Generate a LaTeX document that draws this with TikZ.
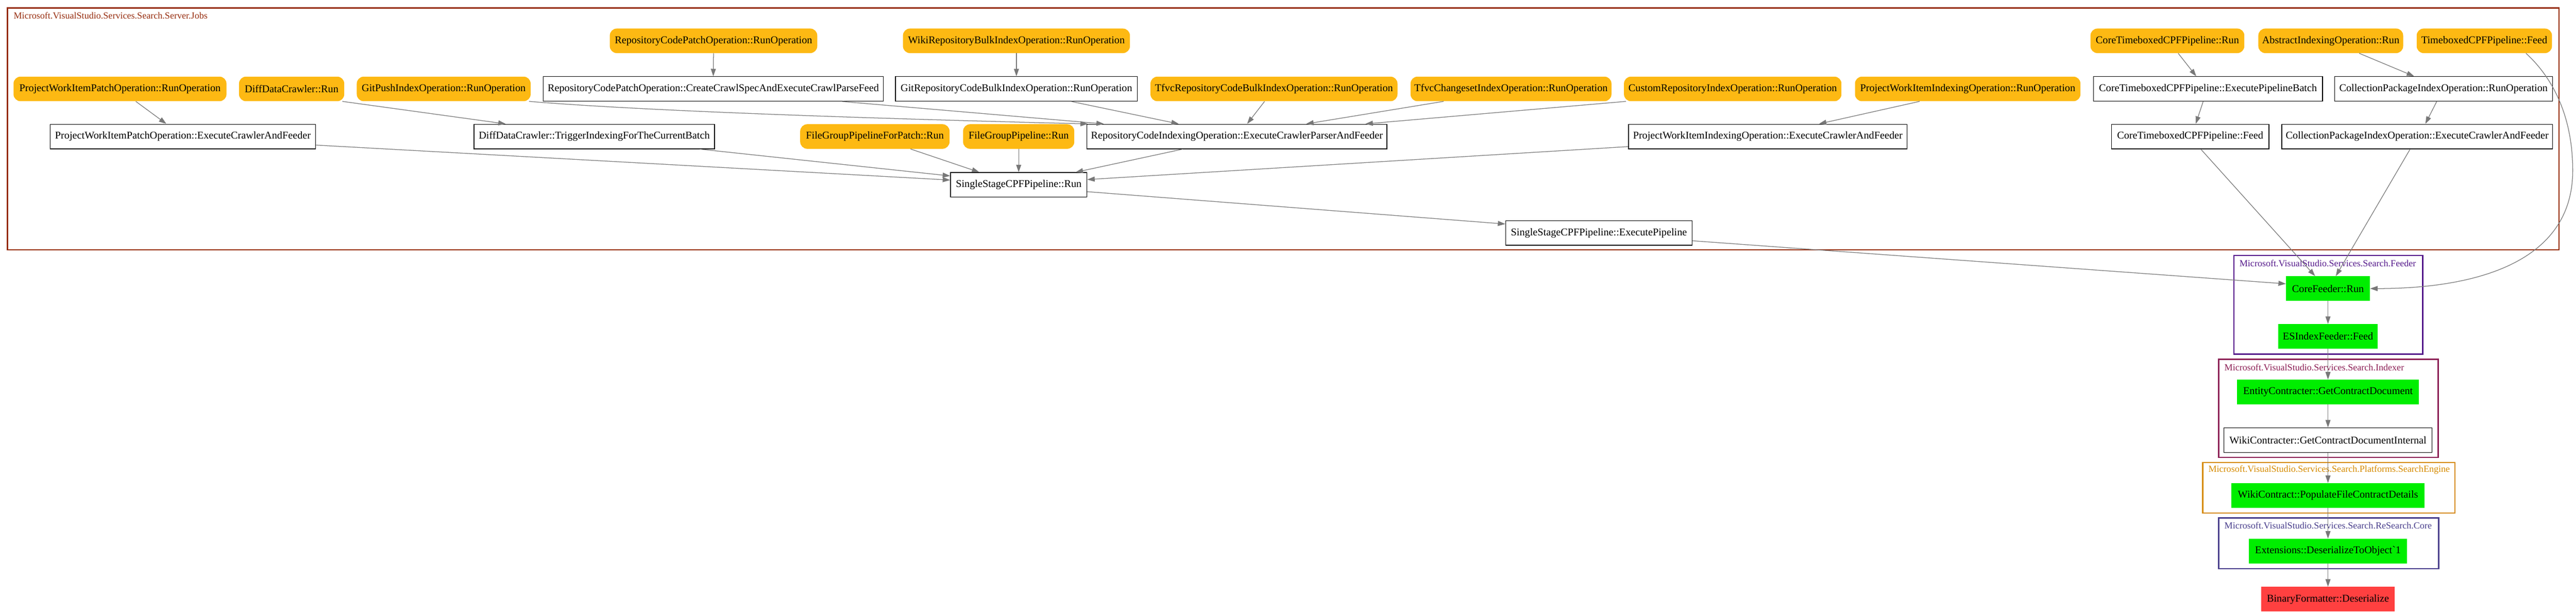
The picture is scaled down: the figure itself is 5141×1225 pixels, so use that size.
\documentclass[tikz,border=0pt]{standalone}
\usepackage{fontspec}
\setmainfont{Liberation Serif}
\newfontfamily\nodefam{Liberation Serif}
\usetikzlibrary{arrows.meta,calc}
\definecolor{opOrange}{RGB}{253,185,19}
\definecolor{fnGreen}{RGB}{0,238,0}
\definecolor{fnRed}{RGB}{255,64,64}
\definecolor{edgeGray}{RGB}{120,120,120}
\definecolor{cJobs}{RGB}{150,45,15}
\definecolor{cFeeder}{RGB}{85,26,139}
\definecolor{cIndexer}{RGB}{139,30,84}
\definecolor{cEngine}{RGB}{213,138,0}
\definecolor{cCore}{RGB}{72,61,139}
\tikzset{
  base/.style={rectangle, minimum height=24.5pt, inner sep=0pt, font=\nodefam\fontsize{10.4pt}{12pt}\selectfont},
  op/.style={base, rounded corners=7pt, fill=opOrange},
  fn/.style={base, draw=black, line width=0.7pt, fill=white},
  gfn/.style={base, fill=fnGreen},
  rfn/.style={base, fill=fnRed},
  wd/.style={minimum width={(#1)*0.5pt}},
  conn/.style={draw=edgeGray, line width=0.65pt, -{Triangle[length=7.5pt,width=5pt]}},
  clus/.style={draw=#1, line width=1.2pt},
  ctitle/.style={anchor=west, inner sep=0pt, text=#1, font=\nodefam\fontsize{9.3pt}{11pt}\selectfont},
}
\begin{document}
\begin{tikzpicture}[x=0.5pt,y=-0.5pt]
\useasboundingbox (0,0) rectangle (5141,1225);
% clusters
\draw[clus=cJobs] (15,16) rectangle (5107,499);
\node[ctitle=cJobs] (tJobs) at (27,31) {Microsoft.VisualStudio.Services.Search.Server.Jobs};
\draw[clus=cFeeder] (4458,510) rectangle (4835,707);
\node[ctitle=cFeeder] (tFeeder) at (4469,526) {Microsoft.VisualStudio.Services.Search.Feeder};
\draw[clus=cIndexer] (4428,717) rectangle (4866,913);
\node[ctitle=cIndexer] (tIndexer) at (4439,733) {Microsoft.VisualStudio.Services.Search.Indexer};
\draw[clus=cEngine] (4396,923) rectangle (4899,1024);
\node[ctitle=cEngine] (tEngine) at (4407,938) {Microsoft.VisualStudio.Services.Search.Platforms.SearchEngine};
\draw[clus=cCore] (4428,1034) rectangle (4867,1135);
\node[ctitle=cCore] (tCore) at (4439,1049) {Microsoft.VisualStudio.Services.Search.ReSearch.Core};
% row 1
\node[op,wd=414] (rcpRun) at (1424,81.5) {RepositoryCodePatchOperation::RunOperation};
\node[op,wd=453] (wikiRun) at (2028.5,81.5) {WikiRepositoryBulkIndexOperation::RunOperation};
\node[op,wd=307] (ctRun) at (4325.5,81.5) {CoreTimeboxedCPFPipeline::Run};
\node[op,wd=289] (aiRun) at (4651.5,81.5) {AbstractIndexingOperation::Run};
\node[op,wd=270] (tbFeed) at (4958,81.5) {TimeboxedCPFPipeline::Feed};
% row 2
\node[op,wd=425] (pwpRun) at (239.5,177.5) {ProjectWorkItemPatchOperation::RunOperation};
\node[op,wd=210] (ddcRun) at (582,177.5) {DiffDataCrawler::Run};
\node[op,wd=347] (gpRun) at (885.5,177.5) {GitPushIndexOperation::RunOperation};
\node[fn,wd=679] (rcpCreate) at (1423.5,177.5) {RepositoryCodePatchOperation::CreateCrawlSpecAndExecuteCrawlParseFeed};
\node[fn,wd=483] (grbRun) at (2028.5,177.5) {GitRepositoryCodeBulkIndexOperation::RunOperation};
\node[op,wd=493] (tfvcBulk) at (2542.5,177.5) {TfvcRepositoryCodeBulkIndexOperation::RunOperation};
\node[op,wd=401] (tfvcCs) at (3015.5,177.5) {TfvcChangesetIndexOperation::RunOperation};
\node[op,wd=434] (custRun) at (3458,177.5) {CustomRepositoryIndexOperation::RunOperation};
\node[op,wd=450] (pwiRun) at (3927,177.5) {ProjectWorkItemIndexingOperation::RunOperation};
\node[fn,wd=457] (ctBatch) at (4406.5,177.5) {CoreTimeboxedCPFPipeline::ExecutePipelineBatch};
\node[fn,wd=435] (cpRun) at (4876.5,177.5) {CollectionPackageIndexOperation::RunOperation};
% row 3
\node[fn,wd=530] (pwpExec) at (365,272.5) {ProjectWorkItemPatchOperation::ExecuteCrawlerAndFeeder};
\node[fn,wd=480] (ddcTrig) at (1186,272.5) {DiffDataCrawler::TriggerIndexingForTheCurrentBatch};
\node[op,wd=298] (fgpPatch) at (1746,272.5) {FileGroupPipelineForPatch::Run};
\node[op,wd=222] (fgp) at (2033,272.5) {FileGroupPipeline::Run};
\node[fn,wd=599] (rciExec) at (2468.5,272.5) {RepositoryCodeIndexingOperation::ExecuteCrawlerParserAndFeeder};
\node[fn,wd=556] (pwiExec) at (3528,272.5) {ProjectWorkItemIndexingOperation::ExecuteCrawlerAndFeeder};
\node[fn,wd=314] (ctFeed) at (4371,272.5) {CoreTimeboxedCPFPipeline::Feed};
\node[fn,wd=540] (cpExec) at (4824,272.5) {CollectionPackageIndexOperation::ExecuteCrawlerAndFeeder};
% rows 4-5
\node[fn,wd=272] (ssRun) at (2033,369) {SingleStageCPFPipeline::Run};
\node[fn,wd=372] (ssExec) at (3191,465) {SingleStageCPFPipeline::ExecutePipeline};
% lower column
\node[gfn,wd=167] (cfRun) at (4646,576) {CoreFeeder::Run};
\node[gfn,wd=199] (esFeed) at (4646,671.5) {ESIndexFeeder::Feed};
\node[gfn,wd=363] (ecGet) at (4646,782.5) {EntityContracter::GetContractDocument};
\node[fn,wd=415] (wcGet) at (4646,878.5) {WikiContracter::GetContractDocumentInternal};
\node[gfn,wd=386] (wcPop) at (4646,989) {WikiContract::PopulateFileContractDetails};
\node[gfn,wd=315] (extDes) at (4646,1100) {Extensions::DeserializeToObject`1};
\node[rfn,wd=266] (bfDes) at (4646,1196) {BinaryFormatter::Deserialize};
% edges
\draw[conn] ($(pwpRun.south west)!0.574!(pwpRun.south east)$) -- ($(pwpExec.north west)!0.438!(pwpExec.north east)$);
\draw[conn] ($(ddcRun.south west)!0.98!(ddcRun.south east)$) -- ($(ddcTrig.north west)!0.133!(ddcTrig.north east)$);
\draw[conn] ($(gpRun.south west)!0.99!(gpRun.south east)$) .. controls +(241,20) and +(-405,-10) .. ($(rciExec.north west)!0.005!(rciExec.north east)$);
\draw[conn] (rcpRun.south) -- (rcpCreate.north);
\draw[conn] ($(rcpCreate.south west)!0.879!(rcpCreate.south east)$) -- ($(rciExec.north west)!0.058!(rciExec.north east)$);
\draw[conn] (wikiRun.south) -- (grbRun.north);
\draw[conn] ($(grbRun.south west)!0.727!(grbRun.south east)$) -- ($(rciExec.north west)!0.307!(rciExec.north east)$);
\draw[conn] ($(tfvcBulk.south west)!0.462!(tfvcBulk.south east)$) -- ($(rciExec.north west)!0.534!(rciExec.north east)$);
\draw[conn] ($(tfvcCs.south west)!0.165!(tfvcCs.south east)$) -- ($(rciExec.north west)!0.730!(rciExec.north east)$);
\draw[conn] ($(custRun.south west)!0.01!(custRun.south east)$) -- ($(rciExec.north west)!0.927!(rciExec.north east)$);
\draw[conn] ($(pwiRun.south west)!0.287!(pwiRun.south east)$) -- ($(pwiExec.north west)!0.683!(pwiExec.north east)$);
\draw[conn] ($(ctRun.south west)!0.57!(ctRun.south east)$) -- ($(ctBatch.north west)!0.449!(ctBatch.north east)$);
\draw[conn] ($(aiRun.south west)!0.696!(aiRun.south east)$) -- ($(cpRun.north west)!0.366!(cpRun.north east)$);
\draw[conn] ($(ctBatch.south west)!0.479!(ctBatch.south east)$) -- ($(ctFeed.north west)!0.535!(ctFeed.north east)$);
\draw[conn] ($(cpRun.south west)!0.469!(cpRun.south east)$) -- ($(cpExec.north west)!0.53!(cpExec.north east)$);
\draw[conn] ($(ctFeed.south west)!0.567!(ctFeed.south east)$) -- ($(cfRun.north west)!0.347!(cfRun.north east)$);
\draw[conn] ($(cpExec.south west)!0.474!(cpExec.south east)$) -- ($(cfRun.north west)!0.593!(cfRun.north east)$);
\draw[conn] ($(tbFeed.south west)!0.807!(tbFeed.south east)$) .. controls +(59,54) and +(0,-100) .. ($(tbFeed.south east)+(41,234)$) .. controls +(0,180) and +(218,0) .. (cfRun.east);
\draw[conn] ($(pwpExec.north east)!0.84!(pwpExec.south east)$) -- ($(ssRun.north west)!0.31!(ssRun.south west)$);
\draw[conn] ($(ddcTrig.south west)!0.9375!(ddcTrig.south east)$) -- ($(ssRun.north west)!0.146!(ssRun.south west)$);
\draw[conn] ($(fgpPatch.south west)!0.738!(fgpPatch.south east)$) -- ($(ssRun.north west)!0.213!(ssRun.north east)$);
\draw[conn] (fgp.south) -- (ssRun.north);
\draw[conn] ($(rciExec.south west)!0.32!(rciExec.south east)$) -- ($(ssRun.north west)!0.915!(ssRun.north east)$);
\draw[conn] ($(pwiExec.north west)!0.9!(pwiExec.south west)$) -- ($(ssRun.north east)!0.29!(ssRun.south east)$);
\draw[conn] ($(ssRun.north east)!0.77!(ssRun.south east)$) -- ($(ssExec.north west)!0.146!(ssExec.south west)$);
\draw[conn] ($(ssExec.north east)!0.81!(ssExec.south east)$) -- ($(cfRun.north west)!0.31!(cfRun.south west)$);
\draw[conn] (cfRun.south) -- (esFeed.north);
\draw[conn] (esFeed.south) -- (ecGet.north);
\draw[conn] (ecGet.south) -- (wcGet.north);
\draw[conn] (wcGet.south) -- (wcPop.north);
\draw[conn] (wcPop.south) -- (extDes.north);
\draw[conn] (extDes.south) -- (bfDes.north);
\end{tikzpicture}
\end{document}
